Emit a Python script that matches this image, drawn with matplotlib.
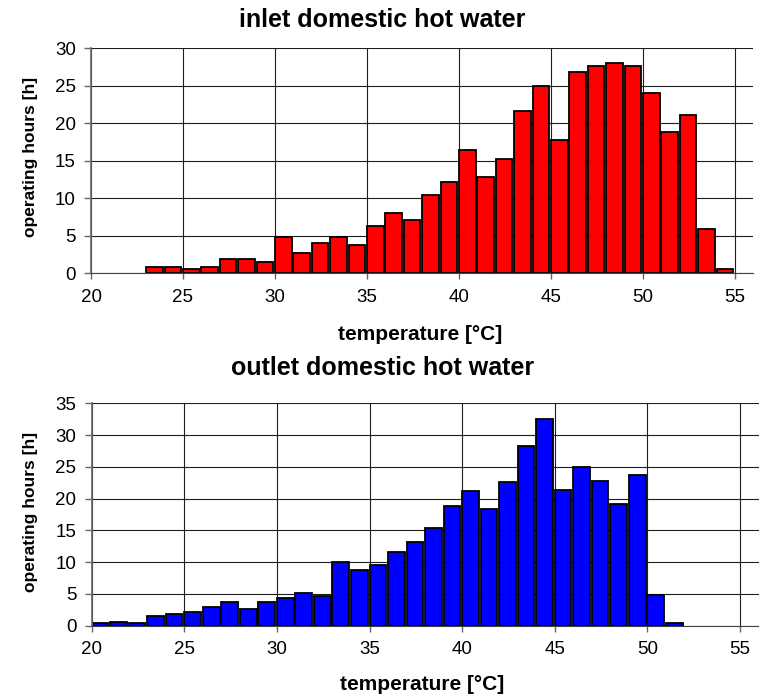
"""Operating-hour histograms for domestic hot water temperatures."""

import matplotlib

matplotlib.use("Agg")
import matplotlib.pyplot as plt
import numpy as np

plt.rcParams["font.family"] = ["Liberation Sans", "DejaVu Sans"]

# 1 K temperature bins, value = lower bin edge
inlet_temp = np.arange(23, 55)
inlet_hours = [
    0.8, 0.8, 0.6, 0.9, 1.9, 1.9, 1.5,
    4.8, 2.7, 4.0, 4.8, 3.8,
    6.3, 8.0, 7.1, 10.5, 12.2,
    16.4, 12.8, 15.3, 21.6, 25.0,
    17.8, 26.8, 27.7, 28.1, 27.6,
    24.1, 18.9, 21.1, 5.9, 0.6,
]

outlet_temp = np.arange(20, 52)
outlet_hours = [
    0.4, 0.6, 0.4, 1.6, 1.8,
    2.2, 2.9, 3.8, 2.7, 3.8,
    4.3, 5.2, 4.7, 10.0, 8.8,
    9.5, 11.6, 13.1, 15.3, 18.8,
    21.2, 18.3, 22.6, 28.3, 32.5,
    21.4, 24.9, 22.8, 19.2, 23.7,
    4.9, 0.4,
]

x_ticks = [20, 25, 30, 35, 40, 45, 50, 55]

W, H = 765, 699
fig = plt.figure(figsize=(W / 100, H / 100), dpi=100)


def px_axes(left, right, top, bottom):
    return fig.add_axes([left / W, 1 - bottom / H, (right - left) / W, (bottom - top) / H])


def style_axes(ax, ymax):
    ax.set_xlim(20, 56)
    ax.set_ylim(0, ymax)
    ax.set_xticks(x_ticks)
    ax.set_yticks(np.arange(0, ymax + 1, 5))
    ax.set_axisbelow(True)
    ax.grid(True, color="#1e1e1e", linewidth=0.8)
    for side in ("top", "right"):
        ax.spines[side].set_visible(False)
    ax.spines["left"].set_color("#666666")
    ax.spines["left"].set_linewidth(1.2)
    ax.spines["bottom"].set_color("#444444")
    ax.tick_params(axis="y", length=5, width=1, color="#666666", pad=6, labelsize=13.5)
    ax.tick_params(axis="x", length=4, width=1, color="#666666", pad=7, labelsize=13.5)


def draw_hist(ax, temps, hours, color):
    ax.bar(temps, hours, width=0.9, align="edge", color=color,
           edgecolor="black", linewidth=1.3)


ax1 = px_axes(91, 753.4, 48.3, 273.3)
draw_hist(ax1, inlet_temp, inlet_hours, "#ff0000")
style_axes(ax1, 30)

ax2 = px_axes(91.7, 758.5, 403.3, 625.7)
draw_hist(ax2, outlet_temp, outlet_hours, "#0000ff")
style_axes(ax2, 35)

title_kw = dict(fontsize=18, fontweight="bold", ha="center", va="center")
label_kw = dict(fontsize=15, fontweight="bold", ha="center", va="center")

fig.text(0.5, 1 - 20 / H, "inlet domestic hot water", **title_kw)
fig.text(0.5, 1 - 368 / H, "outlet domestic hot water", **title_kw)

fig.text(420 / W, 1 - 334 / H, "temperature [°C]", **label_kw)
fig.text(422 / W, 1 - 685 / H, "temperature [°C]", **label_kw)

fig.text(31 / W, 1 - 157 / H, "operating hours [h]", rotation=90,
         fontsize=12.5, fontweight="bold", ha="center", va="center")
fig.text(31 / W, 1 - 512 / H, "operating hours [h]", rotation=90,
         fontsize=12.5, fontweight="bold", ha="center", va="center")

fig.savefig("out.png", dpi=100)
plt.close(fig)
